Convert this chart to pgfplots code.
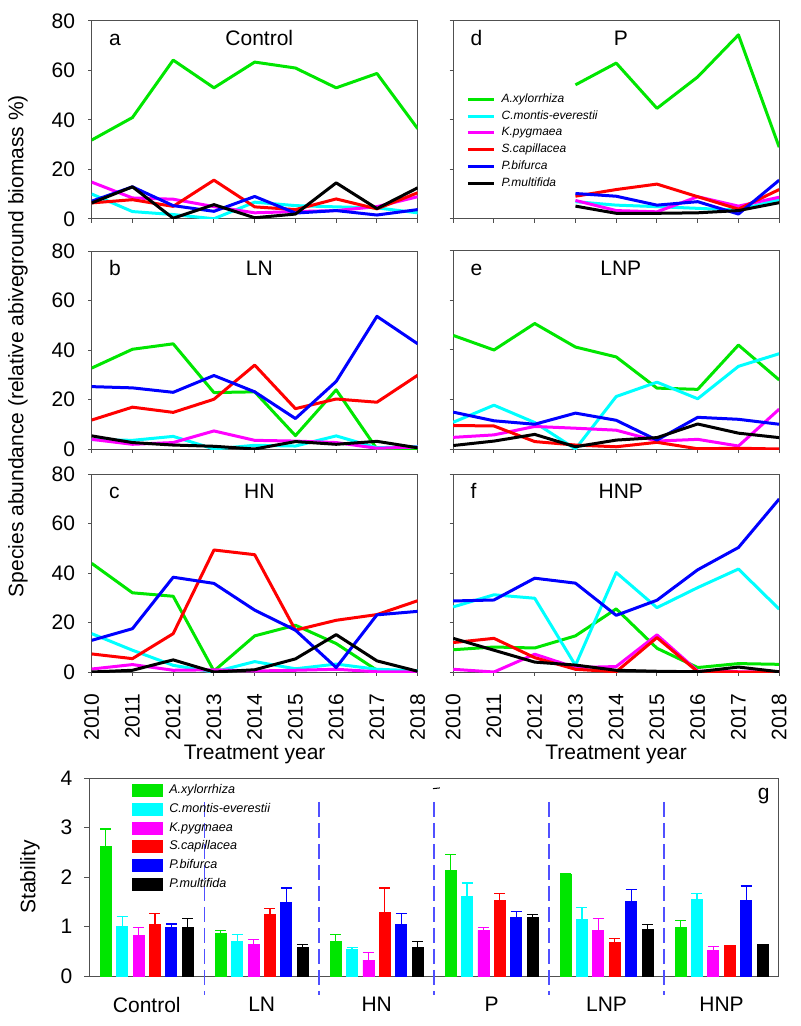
\documentclass[border=0pt]{standalone}
\usepackage{fontspec}
\setmainfont{Liberation Sans}
\usepackage{pgfplots}
\usepackage{pgfplotstable}
\pgfplotsset{compat=1.18}

\definecolor{spG}{RGB}{0,230,0}
\definecolor{spC}{RGB}{0,255,255}
\definecolor{spM}{RGB}{255,0,255}
\definecolor{spR}{RGB}{255,0,0}
\definecolor{spB}{RGB}{0,0,255}
\definecolor{spK}{RGB}{0,0,0}
\definecolor{dashc}{RGB}{80,80,255}
\definecolor{framec}{RGB}{80,80,80}

\newcommand\fs{\fontsize{10.5}{12.6}\selectfont}

% species: g=A.xylorrhiza c=C.montis-everestii m=K.pygmaea r=S.capillacea b=P.bifurca k=P.multifida
\pgfplotstableread{
year g c m r b k
2010 31.9 10.1 14.9 6.5 7.2 6.5
2011 41.0 3.0 8.5 7.8 13.0 13.0
2012 64.2 1.8 8.0 5.1 5.4 0.3
2013 53.0 0.1 5.0 15.7 3.1 5.8
2014 63.4 6.8 2.5 4.9 9.1 0.5
2015 61.0 5.4 3.0 3.8 2.4 2.0
2016 53.0 4.9 3.4 8.1 3.4 14.6
2017 58.8 4.5 5.0 4.1 1.6 4.2
2018 36.5 2.5 9.0 10.6 3.8 12.6
}\tabA
\pgfplotstableread{
year g c m r b k
2010 32.7 3.8 3.9 11.7 25.2 5.3
2011 40.3 3.5 1.9 16.9 24.7 2.6
2012 42.5 5.1 2.6 14.8 22.9 1.6
2013 22.8 0.0 7.3 20.1 29.7 1.1
2014 23.1 1.5 3.5 33.9 23.1 0.0
2015 5.4 1.2 3.2 16.3 12.3 3.0
2016 23.9 5.3 2.6 20.2 27.3 1.9
2017 0.0 0.5 0.3 18.9 53.6 3.1
2018 0.0 1.0 0.8 29.8 42.5 0.5
}\tabB
\pgfplotstableread{
year g c m r b k
2010 43.9 15.5 1.2 7.3 12.8 0.0
2011 32.0 8.8 3.0 5.4 17.5 0.7
2012 30.6 2.7 0.7 15.5 38.3 4.9
2013 0.4 0.0 0.9 49.3 35.8 0.0
2014 14.6 4.2 0.4 47.4 25.0 0.9
2015 18.9 1.3 0.7 16.9 16.9 5.3
2016 11.5 3.2 1.1 20.9 1.8 15.1
2017 0.7 1.1 0.1 23.2 23.1 4.5
2018 0.0 0.5 0.0 28.8 24.5 0.3
}\tabC
\pgfplotstableread{
year g c m r b k
2013 54.2 7.0 7.5 9.2 10.3 5.2
2014 63.0 5.6 3.4 11.9 9.2 2.3
2015 44.7 5.0 2.9 14.1 5.6 2.3
2016 57.4 4.3 9.0 9.0 7.0 2.5
2017 74.4 3.6 5.2 4.0 2.0 3.4
2018 29.0 7.9 8.8 11.9 15.7 6.6
}\tabD
\pgfplotstableread{
year g c m r b k
2010 45.9 10.8 4.7 9.5 14.9 1.4
2011 40.0 17.7 5.7 9.3 11.4 3.2
2012 50.7 10.7 9.1 3.0 10.0 5.9
2013 41.2 0.0 8.4 1.6 14.5 0.9
2014 37.2 21.2 7.6 0.9 11.6 3.6
2015 24.6 27.0 3.2 2.7 3.6 4.6
2016 24.1 20.3 3.9 0.1 12.8 10.1
2017 42.0 33.4 1.2 0.3 12.0 6.4
2018 27.9 38.5 16.1 0.0 10.0 4.6
}\tabE
\pgfplotstableread{
year g c m r b k
2010 9.0 26.3 1.1 11.9 28.7 13.6
2011 10.1 31.2 0.0 13.6 29.1 8.8
2012 9.7 29.8 7.2 5.8 37.9 4.0
2013 14.6 2.7 1.8 1.1 35.9 2.8
2014 25.5 40.2 2.2 0.1 22.9 0.7
2015 9.6 26.0 15.0 13.9 29.0 0.3
2016 1.8 34.1 0.4 0.1 41.3 0.1
2017 3.4 41.6 0.1 0.0 50.3 2.0
2018 3.1 25.4 0.0 0.0 69.9 0.1
}\tabF
% stability: value and upper error, groups at 0.5 ... 5.5
\pgfplotstableread{
x g ge c ce m me r re b be k ke
0.5 2.61 0.36 1.00 0.21 0.82 0.16 1.05 0.21 0.98 0.07 0.99 0.17
1.5 0.855 0.065 0.69 0.145 0.64 0.10 1.25 0.11 1.48 0.30 0.58 0.06
2.5 0.69 0.15 0.53 0.04 0.32 0.15 1.29 0.49 1.04 0.23 0.57 0.12
3.5 2.13 0.32 1.60 0.28 0.92 0.06 1.535 0.125 1.18 0.13 1.18 0.07
4.5 2.05 0.01 1.15 0.24 0.92 0.24 0.67 0.08 1.51 0.23 0.94 0.10
5.5 0.99 0.13 1.54 0.12 0.52 0.07 0.61 0.0 1.52 0.30 0.64 0.0
}\bars

\pgfplotsset{
  panel/.style={
    scale only axis, width=163pt, height=99pt,
    xmin=2010, xmax=2018, ymin=0, ymax=80,
    xtick={2010,...,2018}, ytick={0,20,40,60,80},
    tick pos=left, tick align=outside, major tick length=1.8pt,
    axis line style={framec, line width=0.5pt},
    tick style={framec, line width=0.5pt},
    /pgf/number format/1000 sep={},
    /pgf/number format/assume math mode=true,
    xticklabel style={yshift=-5.5pt, rotate=90, anchor=east},
    yticklabel style={xshift=-3pt},
    every axis plot/.append style={line width=1.5pt, line join=round},
  },
}

\newcommand\sixlines[1]{%
  \addplot[spG] table[x=year,y=g]{#1};
  \addplot[spC] table[x=year,y=c]{#1};
  \addplot[spM] table[x=year,y=m]{#1};
  \addplot[spR] table[x=year,y=r]{#1};
  \addplot[spB] table[x=year,y=b]{#1};
  \addplot[spK] table[x=year,y=k]{#1};
}
\newcommand\tags[2]{%
  \node[anchor=base west] at (axis description cs:0.032,0.874) {#1};
  \node[anchor=base] at (axis description cs:0.514,0.874) {#2};
}
% one bar series: column, shift (pt), colour
\newcommand\barser[3]{%
  \addplot[ybar, bar width=5.5pt, bar shift=#2, draw=#3, fill=#3] table[x=x,y=#1]{\bars};
}
% its upper error bars: column, shift (axis units), colour
\newcommand\errser[3]{%
  \addplot[forget plot, draw=none, mark=none,
    error bars/.cd, y dir=plus, y explicit,
    error bar style={draw=#3, solid, line width=0.6pt},
    error mark options={draw=#3, rotate=90, mark size=2.75pt, line width=0.6pt}]
    table[x expr=\thisrow{x}+#2, y=#1, y error=#1e]{\bars};
}

\begin{document}
\begin{tikzpicture}[font=\fs]
\useasboundingbox (0,0) rectangle (400pt,-513pt);

% a
\begin{axis}[panel, at={(45.85pt,-10.5pt)}, anchor=north west, xticklabels={}]
\sixlines{\tabA}
\tags{a}{Control}
\end{axis}

% d
\begin{axis}[panel, at={(226.6pt,-10.5pt)}, anchor=north west, xticklabels={}, yticklabels={},
  legend style={at={(axis description cs:0.039,0.642)}, anchor=north west,
    draw=none, fill=none, inner sep=0pt, row sep=1.4pt, column sep=2.65pt,
    font=\fontsize{6}{7}\selectfont\itshape,
    nodes={inner sep=0.5pt, text height=4.5pt, text depth=1.5pt}},
  legend cell align=left,
  legend image code/.code={\draw[#1] (0pt,0pt) -- (13pt,0pt);}]
\sixlines{\tabD}
\legend{A.xylorrhiza, C.montis-everestii, K.pygmaea, S.capillacea, P.bifurca, P.multifida}
\tags{d}{P}
\end{axis}

% b
\begin{axis}[panel, at={(45.85pt,-125.5pt)}, anchor=north west, xticklabels={},
  ylabel={Species abundance (relative abiveground biomass \%)},
  ylabel style={at={(axis description cs:-0.226,0.52)}, anchor=center}]
\sixlines{\tabB}
\tags{b}{LN}
\end{axis}

% e
\begin{axis}[panel, at={(226.6pt,-125.5pt)}, anchor=north west, xticklabels={}, yticklabels={}]
\sixlines{\tabE}
\tags{e}{LNP}
\end{axis}

% c
\begin{axis}[panel, at={(45.85pt,-237pt)}, anchor=north west,
  xlabel={Treatment year},
  xlabel style={at={(axis description cs:0.5,-0.418)}, anchor=center}]
\sixlines{\tabC}
\tags{c}{HN}
\end{axis}

% f
\begin{axis}[panel, at={(226.6pt,-237pt)}, anchor=north west, yticklabels={},
  xlabel={Treatment year},
  xlabel style={at={(axis description cs:0.5,-0.418)}, anchor=center}]
\sixlines{\tabF}
\tags{f}{HNP}
\end{axis}

% g
\begin{axis}[scale only axis, width=344.85pt, height=99pt,
  at={(44.65pt,-389pt)}, anchor=north west,
  xmin=0, xmax=6, ymin=0, ymax=4, ytick={0,1,2,3,4},
  xtick={0.5,1.5,...,5.5}, xticklabels={Control,LN,HN,P,LNP,HNP},
  x tick style={draw=none}, xticklabel style={yshift=-4.5pt},
  yticklabel style={xshift=-2.5pt},
  tick pos=left, tick align=outside, major tick length=2.5pt,
  axis line style={framec, line width=0.5pt},
  tick style={framec, line width=0.5pt},
  /pgf/number format/assume math mode=true,
  clip=false,
  ylabel={Stability},
  ylabel style={at={(axis description cs:-0.086,0.5)}, anchor=center},
  legend style={at={(axis description cs:0.062,0.977)}, anchor=north west,
    draw=none, fill=none, inner sep=0pt, row sep=1.9pt, column sep=2.5pt,
    font=\fontsize{6.3}{7.5}\selectfont\itshape,
    nodes={inner sep=0.5pt, text height=4.8pt, text depth=1.7pt}},
  legend cell align=left,
  legend image code/.code={\fill[#1] (0pt,-3pt) rectangle (15pt,3pt);}]
\barser{g}{-20.5pt}{spG}
\barser{c}{-12.3pt}{spC}
\barser{m}{-4.1pt}{spM}
\barser{r}{4.1pt}{spR}
\barser{b}{12.3pt}{spB}
\barser{k}{20.5pt}{spK}
\legend{A.xylorrhiza, C.montis-everestii, K.pygmaea, S.capillacea, P.bifurca, P.multifida}
\errser{g}{-0.3567}{spG}
\errser{c}{-0.2140}{spC}
\errser{m}{-0.0713}{spM}
\errser{r}{0.0713}{spR}
\errser{b}{0.2140}{spB}
\errser{k}{0.3567}{spK}
\addplot[dashc, line width=0.7pt, dash pattern=on 7.5pt off 3pt, forget plot] coordinates {(1,3.52) (1,-0.39)};
\addplot[dashc, line width=0.7pt, dash pattern=on 7.5pt off 3pt, forget plot] coordinates {(2,3.52) (2,-0.39)};
\addplot[dashc, line width=0.7pt, dash pattern=on 7.5pt off 3pt, forget plot] coordinates {(3,3.52) (3,-0.39)};
\addplot[dashc, line width=0.7pt, dash pattern=on 7.5pt off 3pt, forget plot] coordinates {(4,3.52) (4,-0.39)};
\addplot[dashc, line width=0.7pt, dash pattern=on 7.5pt off 3pt, forget plot] coordinates {(5,3.52) (5,-0.39)};
\addplot[black, line width=0.5pt, forget plot] coordinates {(2.99,3.785) (3.05,3.80)};
\node[anchor=base east, inner sep=0pt] at (axis description cs:0.987,0.891) {g};
\end{axis}
\end{tikzpicture}
\end{document}
